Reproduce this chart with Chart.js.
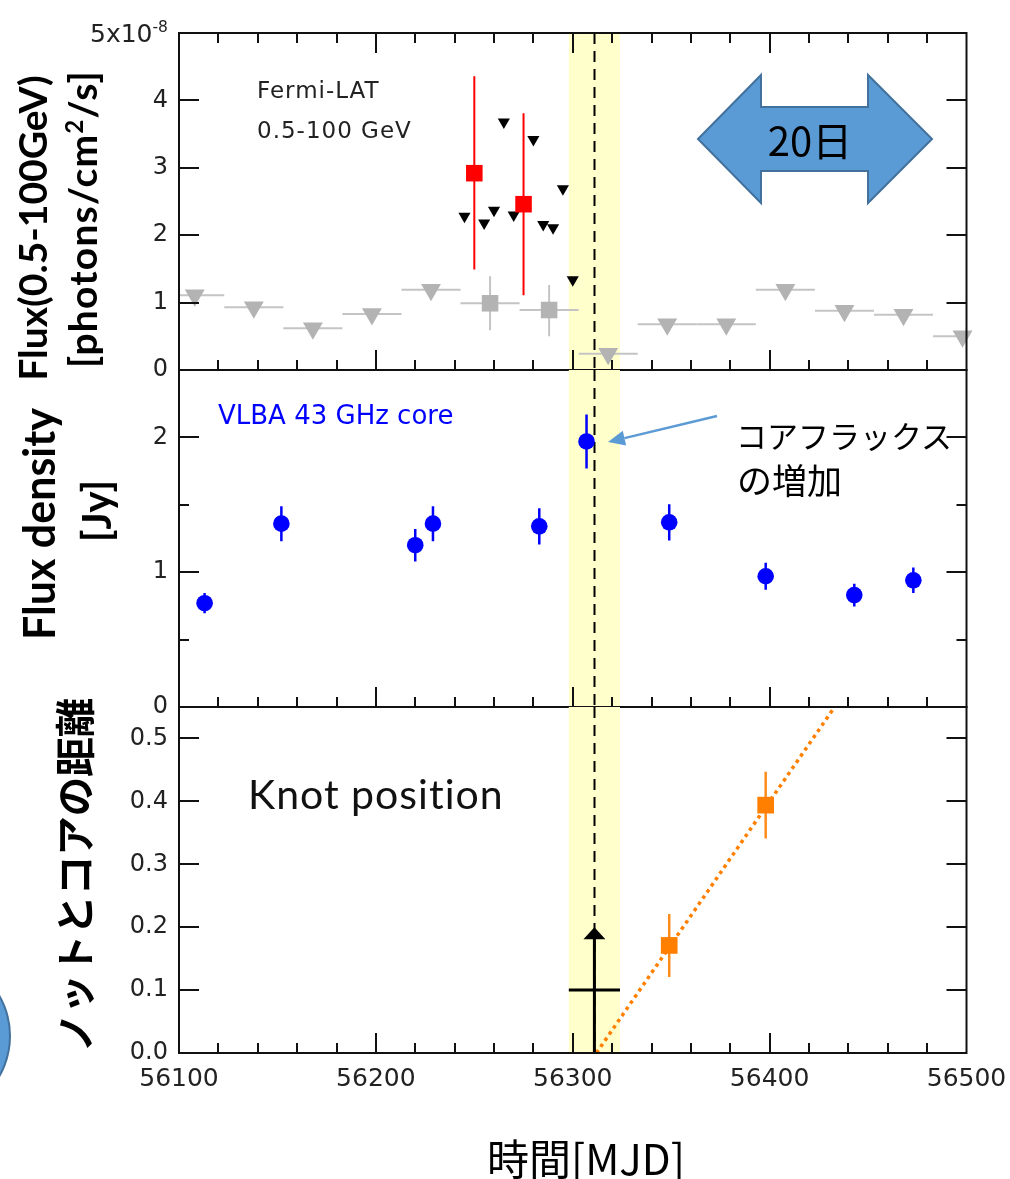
<!DOCTYPE html>
<html lang="ja">
<head>
<meta charset="utf-8">
<title>Fermi-LAT / VLBA 43 GHz / knot position</title>
<script src="https://cdn.jsdelivr.net/npm/chart.js@4/dist/chart.umd.min.js"></script>
<style>
  html, body { margin: 0; padding: 0; background: #fff; }
  #page { position: relative; width: 1010px; height: 1179px; overflow: hidden; }
  canvas { position: absolute; left: 0; top: 0; }
  svg { position: absolute; left: 0; top: 0; pointer-events: none; }
  .t { position: absolute; white-space: nowrap; line-height: 1; }
  .rot { transform: translate(-50%, -50%) rotate(-90deg); }
  .mid { transform: translate(0, -50%); }
  .ctr { transform: translate(-50%, -50%); }
  .rgt { transform: translate(-100%, -50%); }
  .ytitle { font-family: 'Lato', 'Open Sans', sans-serif; font-weight: 700; color: #000; }
  .ytitle sup { font-size: 0.62em; vertical-align: 0.55em; line-height: 0; }
  .jp { font-family: 'Noto Sans CJK JP', sans-serif; color: #000; }
  .lbl { font-family: 'DejaVu Sans', sans-serif; }
  .exp sup { font-size: 0.62em; vertical-align: 0.6em; line-height: 0; }
</style>
</head>
<body>
<div id="page">
  <canvas id="cFermi" width="1010" height="1179"></canvas>
  <canvas id="cVlba" width="1010" height="1179"></canvas>
  <canvas id="cKnot" width="1010" height="1179"></canvas>

  <svg width="1010" height="1179" viewBox="0 0 1010 1179">
    <!-- 20-day scale bar -->
    <polygon points="698,139 761,75 761,107 868,107 868,75 932,139 868,203 868,171 761,171 761,203"
             fill="#5b9bd5" stroke="#41719c" stroke-width="2"/>
    <!-- pointer to the core flux peak -->
    <line x1="717" y1="416" x2="624.5" y2="438.1" stroke="#5b9bd5" stroke-width="2.5"/>
    <polygon points="608,442 626.2,445.4 622.8,430.8" fill="#5b9bd5"/>
    <!-- round badge at the left margin -->
    <circle cx="-71" cy="1036" r="81" fill="#5b9bd5" stroke="#41719c" stroke-width="2"/>
  </svg>

  <!-- scale factor of the flux axis -->
  <div class="t rgt lbl exp" style="left:168px; top:33px; font-size:25px; color:#222;">5x10<sup>-8</sup></div>

  <div class="t mid lbl" style="left:257px; top:90px; font-size:23px; letter-spacing:1px; color:#222;">Fermi-LAT</div>
  <div class="t mid lbl" style="left:257px; top:130px; font-size:23px; letter-spacing:1px; color:#222;">0.5-100 GeV</div>
  <div class="t ctr jp" style="left:810px; top:139px; font-size:40px;">20日</div>

  <div class="t mid lbl" style="left:218px; top:415px; font-size:26px; color:#0000ff;">VLBA 43 GHz core</div>
  <div class="t mid jp" style="left:736px; top:434px; font-size:31px;">コアフラックス</div>
  <div class="t mid jp" style="left:737px; top:478px; font-size:35px;">の増加</div>

  <div class="t mid" style="left:248px; top:793px; font-size:41px; letter-spacing:1px; font-family:'Lato','Open Sans',sans-serif; color:#111;">Knot position</div>

  <div class="t rot ytitle" style="left:32px; top:228px; font-size:39px;">Flux(0.5-100GeV)</div>
  <div class="t rot ytitle" style="left:82px; top:219px; font-size:39px; letter-spacing:1.2px;">[photons/cm<sup>2</sup>/s]</div>
  <div class="t rot ytitle" style="left:38px; top:524px; font-size:43px;">Flux density</div>
  <div class="t rot ytitle" style="left:96px; top:511px; font-size:40px;">[Jy]</div>
  <div class="t rot jp" style="left:73px; top:875px; font-size:39.5px; font-weight:700;">ノットとコアの距離</div>

  <div class="t ctr jp" style="left:586px; top:1157px; font-size:42px;">時間[MJD]</div>
</div>

<script>
// ---------------- data ----------------
// common time axis (MJD)
const mjdMin = 56100;
const mjdMax = 56500;
const mjdLabels = [56100, 56200, 56300, 56400, 56500];

// flare epoch and its window
const flareMJD = 56311;
const flareWindow = [56298, 56324];

// Fermi-LAT 0.5-100 GeV flux, units of 1e-8 photons/cm^2/s
// 30-day bins: upper limits
const lat30UL_mjd  = [56108, 56138, 56168, 56198, 56228, 56318, 56348, 56378, 56408, 56438, 56468, 56498];
const lat30UL_flux = [1.11, 0.93, 0.62, 0.83, 1.19, 0.24, 0.68, 0.68, 1.19, 0.88, 0.82, 0.50];
// 30-day bins: detections
const lat30_mjd  = [56258, 56288];
const lat30_flux = [0.99, 0.89];
const lat30_lo   = [0.59, 0.50];
const lat30_hi   = [1.39, 1.26];
const lat30_halfBin = 15;
// 5-day bins: upper limits
const lat5UL_mjd  = [56245, 56255, 56260, 56265, 56270, 56280, 56285, 56290, 56295, 56300];
const lat5UL_flux = [2.28, 2.18, 2.37, 3.68, 2.30, 3.42, 2.16, 2.11, 2.69, 1.34];
// 5-day bins: detections
const lat5_mjd  = [56250, 56275];
const lat5_flux = [2.92, 2.46];
const lat5_lo   = [1.49, 1.11];
const lat5_hi   = [4.36, 3.81];

// VLBA 43 GHz core flux density (Jy)
const core_mjd  = [56113, 56152, 56220, 56229, 56283, 56307, 56349, 56398, 56443, 56473];
const core_flux = [0.77, 1.36, 1.20, 1.36, 1.34, 1.97, 1.37, 0.97, 0.83, 0.94];
const core_err  = [0.075, 0.13, 0.12, 0.13, 0.135, 0.20, 0.135, 0.10, 0.085, 0.095];

// knot distance from the core (mas)
const knot_mjd  = [56349, 56398];
const knot_dist = [0.171, 0.394];
const knot_err  = [0.05, 0.053];
// linear ejection fit
const fit_mjd  = [56312, 56433];
const fit_dist = [0.0, 0.55];
// ejection-time constraint: lower limit
const limit_mjd  = [56311];
const limit_dist = [0.1];
const limit_tip  = [0.2];
const limit_half = [13];

// y-axis tick marks per panel
const fermiYTicks = [1, 2, 3, 4];
const coreYMajor = [1, 2];
const coreYMinor = [0.5, 1.5];
const knotYTicks = [0.1, 0.2, 0.3, 0.4, 0.5];

// ---------------- helpers ----------------
const pts = (xs, ys) => xs.map((x, i) => ({ x, y: ys[i] }));
const TICK_FONT = { family: 'DejaVu Sans', size: 24 };
const TICK_COLOR = '#222';

// flare window band + dashed epoch line
const flarePlugin = {
  id: 'flare',
  beforeDatasetsDraw(chart) {
    const { ctx, chartArea: a, scales: { x } } = chart;
    const x0 = x.getPixelForValue(flareWindow[0]);
    const x1 = x.getPixelForValue(flareWindow[1]);
    ctx.save();
    ctx.fillStyle = '#ffffcb';
    ctx.fillRect(x0, a.top, x1 - x0, a.bottom - a.top);
    const xf = Math.round(x.getPixelForValue(flareMJD)) + 0.5;
    ctx.strokeStyle = '#000';
    ctx.lineWidth = 2;
    ctx.setLineDash([11, 7]);
    ctx.beginPath();
    ctx.moveTo(xf, a.top);
    ctx.lineTo(xf, a.bottom);
    ctx.stroke();
    ctx.restore();
  }
};

// error bars attached to datasets via `errorBars`
const errorBarPlugin = {
  id: 'errorBars',
  beforeDatasetsDraw(chart) {
    const { ctx, chartArea: a, scales: { x, y } } = chart;
    ctx.save();
    ctx.beginPath();
    ctx.rect(a.left, a.top, a.right - a.left, a.bottom - a.top);
    ctx.clip();
    chart.data.datasets.forEach(ds => {
      const eb = ds.errorBars;
      if (!eb) return;
      ctx.strokeStyle = eb.color;
      ctx.lineWidth = eb.width;
      ds.data.forEach((p, i) => {
        const px = x.getPixelForValue(p.x);
        const py = y.getPixelForValue(p.y);
        ctx.beginPath();
        if (eb.lo) {
          ctx.moveTo(px, y.getPixelForValue(eb.lo[i]));
          ctx.lineTo(px, y.getPixelForValue(eb.hi[i]));
        }
        if (eb.xHalf) {
          ctx.moveTo(x.getPixelForValue(p.x - eb.xHalf), py);
          ctx.lineTo(x.getPixelForValue(p.x + eb.xHalf), py);
        }
        ctx.stroke();
      });
    });
    ctx.restore();
  }
};

// lower-limit marker with upward arrow
const limitPlugin = {
  id: 'limit',
  afterDatasetsDraw(chart, args, opts) {
    if (!opts || !opts.on) return;
    const { ctx, scales: { x, y } } = chart;
    ctx.save();
    ctx.strokeStyle = '#000';
    ctx.fillStyle = '#000';
    ctx.lineWidth = 3;
    limit_mjd.forEach((m, i) => {
      const px = x.getPixelForValue(m);
      const y0 = y.getPixelForValue(0);
      const yt = y.getPixelForValue(limit_tip[i]);
      const yl = y.getPixelForValue(limit_dist[i]);
      ctx.beginPath();
      ctx.moveTo(px, y0);
      ctx.lineTo(px, yt + 10);
      ctx.moveTo(x.getPixelForValue(m - limit_half[i]), yl);
      ctx.lineTo(x.getPixelForValue(m + limit_half[i]), yl);
      ctx.stroke();
      ctx.beginPath();
      ctx.moveTo(px, yt);
      ctx.lineTo(px + 11, yt + 12);
      ctx.lineTo(px - 11, yt + 12);
      ctx.closePath();
      ctx.fill();
    });
    ctx.restore();
  }
};

// panel frame with inward ticks
const framePlugin = {
  id: 'frame',
  afterDraw(chart, args, opts) {
    const { ctx, chartArea: a, scales: { x, y } } = chart;
    ctx.save();
    ctx.strokeStyle = '#111';
    ctx.lineWidth = 2;
    ctx.lineCap = 'square';
    ctx.beginPath();
    ctx.moveTo(a.left, a.bottom); ctx.lineTo(a.right, a.bottom);
    ctx.moveTo(a.left, a.top); ctx.lineTo(a.left, a.bottom);
    ctx.moveTo(a.right, a.top); ctx.lineTo(a.right, a.bottom);
    if (opts.top) { ctx.moveTo(a.left, a.top); ctx.lineTo(a.right, a.top); }
    ctx.stroke();
    ctx.lineCap = 'butt';
    ctx.beginPath();
    for (let v = mjdMin + 20; v < mjdMax; v += 20) {
      const px = Math.round(x.getPixelForValue(v));
      const len = (v % 100 === 0) ? 20 : 10;
      ctx.moveTo(px, a.bottom); ctx.lineTo(px, a.bottom - len);
      if (opts.top) { ctx.moveTo(px, a.top); ctx.lineTo(px, a.top + len); }
    }
    (opts.yTicks || []).forEach(([v, len]) => {
      const py = Math.round(y.getPixelForValue(v));
      ctx.moveTo(a.left, py); ctx.lineTo(a.left + len, py);
      ctx.moveTo(a.right, py); ctx.lineTo(a.right - len, py);
    });
    ctx.stroke();
    ctx.restore();
  }
};

function xAxis(show) {
  return {
    type: 'linear', min: mjdMin, max: mjdMax, display: show,
    grid: { display: false, drawTicks: false }, border: { display: false },
    afterBuildTicks: s => { s.ticks = mjdLabels.map(v => ({ value: v })); },
    ticks: {
      autoSkip: false, maxRotation: 0, padding: 11,
      font: { family: 'DejaVu Sans', size: 25 }, color: TICK_COLOR,
      callback: v => String(v)
    },
    afterFit: s => {
      s.height = show ? 126 : 0;
      s.paddingLeft = 0;
      s.paddingRight = 0;
    }
  };
}

function yAxis(min, max, step, fmt) {
  return {
    type: 'linear', min, max, position: 'left',
    grid: { display: false, drawTicks: false }, border: { display: false },
    ticks: { stepSize: step, includeBounds: false, padding: 11, font: TICK_FONT, color: TICK_COLOR, callback: fmt },
    afterFit: s => { s.width = 179; s.paddingTop = 0; s.paddingBottom = 0; }
  };
}

function baseOptions(pad, xShow, yCfg, frame, extra) {
  return {
    responsive: false, animation: false, events: [],
    layout: { padding: { left: 0, right: 43.5, top: pad[0], bottom: pad[1] } },
    scales: { x: xAxis(xShow), y: yCfg },
    plugins: Object.assign({ legend: { display: false }, tooltip: { enabled: false }, frame }, extra || {})
  };
}

const marker = (style, r, color, rot) => ({
  pointStyle: style, pointRadius: r, pointRotation: rot || 0,
  pointBackgroundColor: color, backgroundColor: color,
  pointBorderWidth: 0, borderWidth: 0, clip: false
});

const plugins = [flarePlugin, errorBarPlugin, limitPlugin, framePlugin];

// ---------------- Fermi-LAT panel ----------------
new Chart(document.getElementById('cFermi'), {
  type: 'scatter',
  data: {
    datasets: [
      Object.assign({ label: '5-day detections', data: pts(lat5_mjd, lat5_flux),
        errorBars: { lo: lat5_lo, hi: lat5_hi, color: '#ff0000', width: 2 } }, marker('rect', 11.7, '#ff0000')),
      Object.assign({ label: '5-day upper limits', data: pts(lat5UL_mjd, lat5UL_flux) }, marker('triangle', 7, '#000', 180)),
      Object.assign({ label: '30-day detections', data: pts(lat30_mjd, lat30_flux),
        errorBars: { lo: lat30_lo, hi: lat30_hi, xHalf: lat30_halfBin, color: '#c4c4c4', width: 2 } }, marker('rect', 11.7, '#b3b3b3')),
      Object.assign({ label: '30-day upper limits', data: pts(lat30UL_mjd, lat30UL_flux),
        errorBars: { xHalf: lat30_halfBin, color: '#c4c4c4', width: 2 } }, marker('triangle', 11.5, '#b3b3b3', 180))
    ]
  },
  // the top tick (5) carries the scale factor, written next to the axis
  options: baseOptions([33, 1179 - 370], false,
    yAxis(0, 5, 1, v => (v === 5 ? '' : String(v))),
    { top: true, yTicks: fermiYTicks.map(v => [v, 20]) }),
  plugins
});

// ---------------- VLBA core panel ----------------
new Chart(document.getElementById('cVlba'), {
  type: 'scatter',
  data: {
    datasets: [
      Object.assign({ label: 'VLBA 43 GHz core', data: pts(core_mjd, core_flux),
        errorBars: { lo: core_flux.map((f, i) => f - core_err[i]), hi: core_flux.map((f, i) => f + core_err[i]), color: '#0000ff', width: 2.5 } },
        marker('circle', 8.3, '#0000ff'))
    ]
  },
  options: baseOptions([370, 1179 - 707], false,
    yAxis(0, 2.5, 0.5, v => (Number.isInteger(v) ? String(v) : '')),
    { top: false, yTicks: coreYMajor.map(v => [v, 20]).concat(coreYMinor.map(v => [v, 10])) }),
  plugins
});

// ---------------- knot position panel ----------------
new Chart(document.getElementById('cKnot'), {
  type: 'scatter',
  data: {
    datasets: [
      Object.assign({ label: 'knot', data: pts(knot_mjd, knot_dist),
        errorBars: { lo: knot_dist.map((d, i) => d - knot_err[i]), hi: knot_dist.map((d, i) => d + knot_err[i]), color: '#ff8c1a', width: 2.5 } },
        marker('rect', 11.8, '#ff8000')),
      { label: 'fit', data: pts(fit_mjd, fit_dist), showLine: true, pointRadius: 0,
        borderColor: '#ff7f00', borderWidth: 3.5, borderDash: [3.5, 4], fill: false }
    ]
  },
  options: baseOptions([707, 0], true,
    yAxis(0, 0.55, 0.1, v => v.toFixed(1)),
    { top: false, yTicks: knotYTicks.map(v => [v, 20]) },
    { limit: { on: true } }),
  plugins
});
</script>
</body>
</html>
